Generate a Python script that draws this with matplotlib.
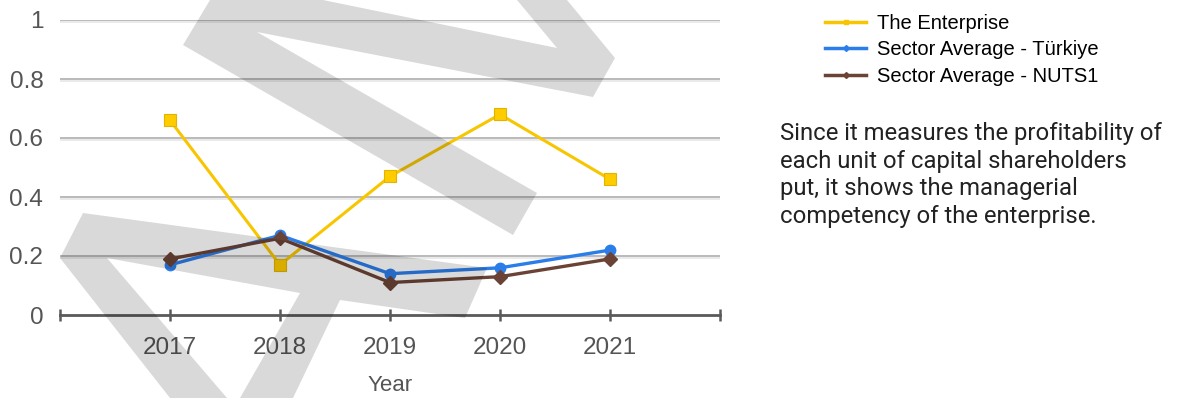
import matplotlib
matplotlib.use("Agg")
import matplotlib.pyplot as plt
from matplotlib.patches import Polygon
from matplotlib.lines import Line2D

years = [2017, 2018, 2019, 2020, 2021]
enterprise = [0.66, 0.17, 0.47, 0.68, 0.46]
sector_tr = [0.17, 0.27, 0.14, 0.16, 0.22]
sector_nuts1 = [0.19, 0.26, 0.11, 0.13, 0.19]

series_names = ["The Enterprise", "Sector Average - Türkiye", "Sector Average - NUTS1"]
y_ticks = [0, 0.2, 0.4, 0.6, 0.8, 1]
y_tick_labels = ["0", "0.2", "0.4", "0.6", "0.8", "1"]
note = ("Since it measures the profitability of\n"
        "each unit of capital shareholders\n"
        "put, it shows the managerial\n"
        "competency of the enterprise.")

YELLOW = "#f7c600"
BLUE = "#2b7de9"
BROWN = "#6b4336"
AXIS_TXT = "#555555"

plt.rcParams["font.family"] = ["Liberation Sans", "DejaVu Sans"]

W, H = 1178, 398
fig = plt.figure(figsize=(W / 100, H / 100), dpi=100)
ax = fig.add_axes([60 / W, 1 - 315 / H, 660 / W, 295 / H])

ax.set_xlim(2016, 2022)
ax.set_ylim(0, 1)

# grid lines with a soft shadow underneath
for v in y_ticks[1:]:
    ax.axhline(v, color="#b4b4b4", lw=1.3, zorder=1)
    ax.axhline(v - 0.006, color="#e6e6e6", lw=1.2, zorder=0.9)

ax.plot(years, enterprise, color=YELLOW, lw=2.2, marker="s", ms=8.5,
        mfc="#ffcc00", mec="#e0b400", mew=0.8, zorder=3)
ax.plot(years, sector_tr, color=BLUE, lw=2.4, marker="o", ms=7.5,
        mfc=BLUE, mec=BLUE, zorder=4)
ax.plot(years, sector_nuts1, color=BROWN, lw=2.4, marker="D", ms=7,
        mfc=BROWN, mec=BROWN, zorder=5)

for s in ["left", "right", "top"]:
    ax.spines[s].set_visible(False)
ax.spines["bottom"].set_color("#5a5a5a")
ax.spines["bottom"].set_linewidth(2)
ax.spines["bottom"].set_zorder(2)

ax.set_xticks(range(2016, 2023))
ax.set_xticklabels([""] + [str(y) for y in years] + [""])
ax.tick_params(axis="x", direction="inout", length=9, width=1.8,
               color="#5a5a5a", labelsize=17.5, labelcolor=AXIS_TXT, pad=11)
ax.set_yticks(y_ticks)
ax.set_yticklabels(y_tick_labels)
ax.tick_params(axis="y", length=0, labelsize=17.5, labelcolor=AXIS_TXT, pad=12)
ax.set_xlabel("Year", fontsize=16, color=AXIS_TXT, labelpad=12)

handles = [
    Line2D([], [], color=YELLOW, lw=2.5, marker="s", ms=3, mfc=YELLOW, mec=YELLOW),
    Line2D([], [], color=BLUE, lw=2.5, marker="D", ms=3, mfc=BLUE, mec=BLUE),
    Line2D([], [], color=BROWN, lw=2.5, marker="D", ms=3, mfc=BROWN, mec=BROWN),
]
fig.legend(handles, series_names, loc="upper left",
           bbox_to_anchor=(817 / W, 1 - 6 / H), frameon=False,
           fontsize=14.5, handlelength=2.05, handletextpad=0.55,
           labelspacing=0.36, borderaxespad=0)

fig.text(780 / W, 1 - 122 / H, note, fontsize=17.2, color="#222222",
         family=["Roboto", "DejaVu Sans"], va="top", ha="left", linespacing=1.26)

# semi-transparent watermark over the chart
wm_a = [(210, 0), (183, 45), (513, 235), (537, 193), (257, 32), (593, 97),
        (615, 58), (567, 0), (517, 0), (557, 48), (323, 0)]
wm_b = [(60, 258), (83, 213), (487, 268), (465, 318), (340, 300), (293, 398),
        (240, 398), (300, 293), (107, 258), (227, 398), (170, 398)]
for pts in (wm_a, wm_b):
    poly = Polygon([(x / W, 1 - y / H) for x, y in pts], closed=True,
                   transform=fig.transFigure, facecolor="black",
                   edgecolor="none", alpha=0.15, zorder=10)
    fig.patches.append(poly)

fig.savefig("out.png", dpi=100)
